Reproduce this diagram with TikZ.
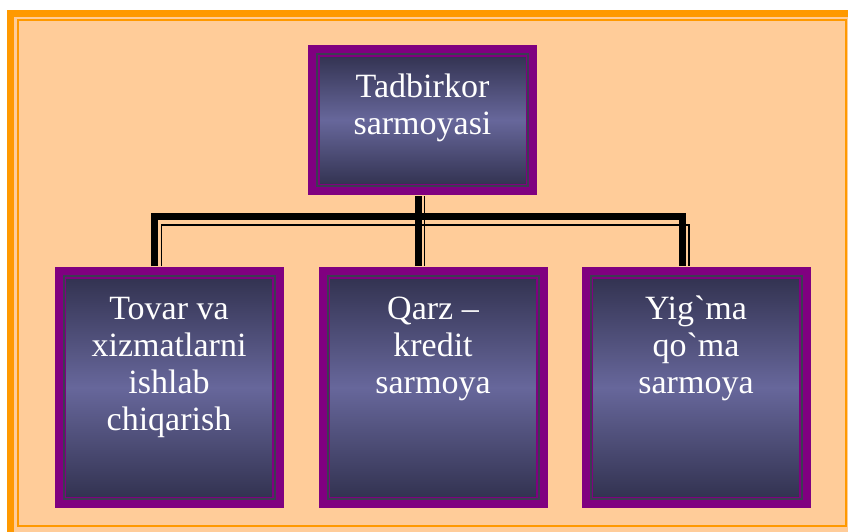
\documentclass[tikz,border=0pt]{standalone}
\usepackage{fontspec}
\setmainfont{Liberation Serif}
\usetikzlibrary{positioning}

\definecolor{peach}{HTML}{FFCC99}
\definecolor{frameorange}{HTML}{FF9900}
\definecolor{boxpurple}{HTML}{800080}
\definecolor{boxline}{HTML}{3C3C52}
\definecolor{carddark}{HTML}{323250}
\definecolor{cardmid}{HTML}{67679B}

\newcommand{\cardtext}[2]{\parbox[c][#1][t]{211pt}{\centering\rule{0pt}{43.5pt}#2}}

\begin{document}
\begin{tikzpicture}[x=1pt, y=-1pt,
    cardbox/.style={rectangle,
          inner sep=0pt,
          text=white,
          font=\fontsize{34}{37}\selectfont,
          top color=carddark,
          bottom color=carddark,
          middle color=cardmid,
          draw=boxpurple,
          double=boxline,
          double distance=2pt,
          line width=1.5pt,
          preaction={draw=boxpurple, double=boxpurple, double distance=0pt, line width=9pt}},
    thickbar/.style={line width=7pt},
    thinbar/.style={line width=1.8pt}]
   \useasboundingbox (0,0) rectangle (848,531);
   \clip (0,0) rectangle (848,531);

   % frame
   \fill[peach] (7,10) rectangle (860,545);
   \draw[frameorange, line width=7pt] (10.5,13.5) rectangle (860,545);
   \draw[frameorange, line width=1.8pt] (17.9,20) rectangle (846,525.8);

   \node[cardbox] (tadbir) at (422.5,120) {\cardtext{132pt}{Tadbirkor\\sarmoyasi}};
   \node[cardbox] (tovar) at (169,387.5) {\cardtext{223pt}{Tovar va\\xizmatlarni\\ishlab\\chiqarish}};
   \node[cardbox] (qarz) at (433,387.5) {\cardtext{223pt}{Qarz --\\kredit\\sarmoya}};
   \node[cardbox] (yigma) at (696,387.5) {\cardtext{223pt}{Yig\textasciigrave ma\\qo\textasciigrave ma\\sarmoya}};

   \coordinate (fork) at ([yshift=-30pt]tadbir.south);

   % connectors
   \draw[thickbar] ([xshift=-4.5pt,yshift=-9pt]tadbir.south) -- ([xshift=-15pt,yshift=9pt]qarz.north);
   \draw[thinbar] ([xshift=2pt,yshift=-9pt]tadbir.south) -- ([xshift=-8.5pt,yshift=9pt]qarz.north);
   \draw[thickbar] ([xshift=-15pt,yshift=9pt]tovar.north) |- (fork) -| ([xshift=-14pt,yshift=9pt]yigma.north);
   \draw[thinbar] ([xshift=-7.5pt,yshift=9pt]tovar.north) |- ([yshift=-8.5pt]fork) -| ([xshift=-7pt,yshift=9pt]yigma.north);
\end{tikzpicture}
\end{document}
